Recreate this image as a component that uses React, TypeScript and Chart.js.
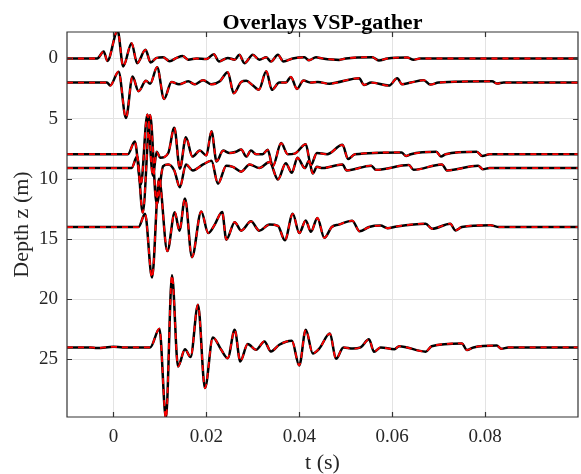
import React, { useEffect, useRef } from "react";
import { Chart, registerables } from "chart.js";

Chart.register(...registerables);

// ---- text ----
const titleText = "Overlays VSP-gather";
const xLabel = "t (s)";
const yLabel = "Depth z (m)";

// ---- axes ----
const xMin = -0.01;
const xMax = 0.1;
const yMin = -2.2;
const yMax = 29.78;
const xTicks = [0, 0.02, 0.04, 0.06, 0.08];
const xTickLabels = ["0", "0.02", "0.04", "0.06", "0.08"];
const yTicks = [0, 5, 10, 15, 20, 25];
const yTickLabels = ["0", "5", "10", "15", "20", "25"];

// ---- receiver depths (m) ----
const depths = [0, 2, 7.95, 9.1, 14, 24];

// ---- trace samples: times (s) and amplitudes (depth units, upward positive) ----
const tTrace0 = [-0.01, -0.0035, -0.0021, -0.0013, 0.0009, 0.0021, 0.0039, 0.0051, 0.0069, 0.008, 0.0093, 0.0107, 0.0121, 0.0136, 0.0149, 0.0161, 0.0179, 0.02, 0.0216, 0.0227, 0.0246, 0.0261, 0.0271, 0.0282, 0.03, 0.0314, 0.0329, 0.0339, 0.0354, 0.0366, 0.0386, 0.0411, 0.0421, 0.0436, 0.045, 0.0486, 0.05, 0.0557, 0.0571, 0.059, 0.0632, 0.0646, 0.066, 0.1];
const aTrace0 = [0, 0, 0.58, -0.2, 2.3, -0.66, 1.27, -0.39, 0.72, -0.33, 0.05, 0.1, -0.22, 0.05, 0.2, -0.1, 0, -0.05, 0.36, -0.25, 0.05, -0.1, 0.3, -0.39, 0.3, -0.1, 0.1, -0.25, 0.3, -0.25, 0, 0.1, -0.15, 0.1, 0, -0.12, 0, 0.11, -0.17, 0, 0.08, -0.1, 0, 0];

const tTrace1 = [-0.01, -0.0014, -0.0007, 0.0011, 0.0027, 0.0041, 0.0054, 0.007, 0.0079, 0.0094, 0.0109, 0.0125, 0.0141, 0.0161, 0.0175, 0.0193, 0.0211, 0.0229, 0.0246, 0.0259, 0.0275, 0.0286, 0.0299, 0.0313, 0.0329, 0.0341, 0.0357, 0.0371, 0.0382, 0.0395, 0.0409, 0.0425, 0.044, 0.0465, 0.048, 0.0529, 0.0539, 0.0555, 0.0593, 0.0611, 0.0621, 0.064, 0.0668, 0.0682, 0.07, 0.0815, 0.0826, 0.084, 0.1];
const aTrace1 = [0, 0, -0.25, 0.9, -2.94, 0.5, -0.72, 0.15, -0.1, 1.27, -1.36, 0.05, -0.15, 0.1, -0.15, 0.2, -0.15, 0.1, 0.86, -0.89, 0.05, 0.15, -0.2, -0.6, 0.94, -0.6, 0, 0, 0.47, -0.53, 0.17, 0, 0.05, -0.1, 0, 0.36, -0.2, 0, -0.25, 0.36, -0.14, 0, 0.2, -0.17, 0, 0.1, -0.08, 0, 0];

const tTrace2 = [-0.01, 0.0031, 0.0046, 0.0059, 0.0073, 0.0085, 0.0093, 0.0101, 0.0118, 0.0131, 0.0143, 0.0156, 0.017, 0.0186, 0.02, 0.0211, 0.0222, 0.0236, 0.025, 0.0264, 0.0275, 0.0286, 0.0296, 0.0307, 0.0321, 0.0332, 0.0343, 0.0361, 0.0375, 0.039, 0.0414, 0.0425, 0.0438, 0.046, 0.0493, 0.0505, 0.052, 0.062, 0.063, 0.064, 0.0695, 0.0705, 0.0715, 0.0782, 0.0794, 0.081, 0.1];
const aTrace2 = [0, 0, 1.05, -2.5, 3.3, -1.8, 0.2, -0.3, 0.1, 2.2, -1.2, 1.4, -0.2, 0.3, -0.1, 1.9, -0.6, 0.3, 0.1, 0.2, 0.4, -0.2, 0.3, 0, 0, 0.36, -1.0, 0.92, 0, 0.05, 0.83, -0.9, 0.1, 0, 0.78, -0.4, 0, 0.15, -0.15, 0, 0.2, -0.2, 0, 0.2, -0.15, 0, 0];

const tTrace3 = [-0.01, 0.0039, 0.0051, 0.0063, 0.0079, 0.0093, 0.0107, 0.0118, 0.0131, 0.0143, 0.0156, 0.0171, 0.0193, 0.0211, 0.0225, 0.0243, 0.0257, 0.0275, 0.0293, 0.0314, 0.0336, 0.0354, 0.0371, 0.0384, 0.0396, 0.0412, 0.0421, 0.0429, 0.0438, 0.045, 0.0493, 0.0502, 0.0555, 0.0565, 0.0636, 0.0646, 0.0707, 0.0718, 0.0785, 0.0795, 0.081, 0.1];
const aTrace3 = [0, 0, 0.97, -3.7, 4.4, -3.0, 0.15, 0.3, -0.2, -1.6, 0.3, -0.2, 0.3, 0.6, -1.3, 0.2, 0.1, -0.3, 0.3, 0, 0.5, -0.95, 0.4, -0.4, 0.86, 0, 0.6, -0.45, 0.1, 0, 0.3, -0.2, 0.2, -0.15, 0.25, -0.15, 0.3, -0.2, 0.2, -0.1, 0, 0];

const tTrace4 = [-0.01, 0.0054, 0.0068, 0.0083, 0.0098, 0.0116, 0.0132, 0.0142, 0.0154, 0.0169, 0.0189, 0.0204, 0.0218, 0.0234, 0.0243, 0.0261, 0.0275, 0.0296, 0.0314, 0.0336, 0.0354, 0.0369, 0.0386, 0.04, 0.0414, 0.0425, 0.0439, 0.0454, 0.047, 0.0485, 0.0514, 0.053, 0.055, 0.0575, 0.059, 0.061, 0.0672, 0.0686, 0.0725, 0.0736, 0.075, 0.0811, 0.083, 0.1];
const aTrace4 = [0, 0, 1.1, -4.2, 4.0, -2.0, 1.22, -0.3, 2.37, -2.5, 1.3, -0.5, 0.2, 1.25, -1.05, 0.4, -0.3, 0.47, -0.3, 0.2, 0.1, -1.1, 1.1, -0.5, 0.55, -0.4, 0.75, -0.9, 0, 0.2, 0.53, -0.36, 0, 0.12, -0.1, 0.05, 0.28, -0.15, 0.28, -0.28, 0, 0.15, 0, 0];

const tTrace5 = [-0.01, -0.005, -0.0035, 0, 0.002, 0.0079, 0.0099, 0.0113, 0.0126, 0.0139, 0.0154, 0.0166, 0.0182, 0.0197, 0.0214, 0.0232, 0.0246, 0.0261, 0.0273, 0.0289, 0.0307, 0.0325, 0.0339, 0.0357, 0.0384, 0.04, 0.0414, 0.0429, 0.0443, 0.0466, 0.0479, 0.0495, 0.0515, 0.0532, 0.055, 0.0561, 0.0575, 0.0605, 0.0615, 0.0672, 0.0685, 0.075, 0.0761, 0.0775, 0.0825, 0.0835, 0.085, 0.1];
const aTrace5 = [0, 0, -0.05, 0.05, 0, 0, 1.55, -5.9, 6.0, -1.58, -0.15, -0.8, 3.55, -3.38, 0.83, -0.2, -0.9, 1.47, -1.16, 0.28, -0.2, 0.5, -0.33, 0.22, 0.55, -1.5, 1.47, -0.5, -0.1, 1.15, -0.95, 0, -0.1, 0, 0.67, -0.36, 0, -0.15, 0.1, -0.35, 0.1, 0.33, -0.22, 0, 0.15, -0.12, 0, 0];

const traceTimes = [tTrace0, tTrace1, tTrace2, tTrace3, tTrace4, tTrace5];
const traceAmps = [aTrace0, aTrace1, aTrace2, aTrace3, aTrace4, aTrace5];

const FONT = '"Liberation Serif", "Times New Roman", serif';

function buildPoints(i: number) {
  const ts = traceTimes[i];
  const as = traceAmps[i];
  const n = Math.min(ts.length, as.length);
  const pts: { x: number; y: number }[] = [];
  for (let k = 0; k < n; k++) pts.push({ x: ts[k], y: depths[i] - as[k] });
  return pts;
}

const framePlugin = {
  id: "matlabFrame",
  afterDraw(chart: any) {
    const { ctx, chartArea } = chart;
    const { left, right, top, bottom } = chartArea;
    const xs = chart.scales.x;
    const ys = chart.scales.y;
    ctx.save();
    ctx.strokeStyle = "#333333";
    ctx.lineWidth = 1.2;
    ctx.beginPath();
    ctx.rect(left, top, right - left, bottom - top);
    ctx.stroke();
    const tl = 5;
    ctx.beginPath();
    xTicks.forEach((v) => {
      const px = Math.round(xs.getPixelForValue(v)) + 0.5;
      ctx.moveTo(px, bottom);
      ctx.lineTo(px, bottom - tl);
      ctx.moveTo(px, top);
      ctx.lineTo(px, top + tl);
    });
    yTicks.forEach((v) => {
      const py = Math.round(ys.getPixelForValue(v)) + 0.5;
      ctx.moveTo(left, py);
      ctx.lineTo(left + tl, py);
      ctx.moveTo(right, py);
      ctx.lineTo(right - tl, py);
    });
    ctx.stroke();

    ctx.fillStyle = "#000000";
    ctx.textAlign = "center";
    ctx.textBaseline = "alphabetic";
    ctx.font = `bold 22px ${FONT}`;
    ctx.fillText(titleText, (left + right) / 2, 29);

    ctx.fillStyle = "#262626";
    ctx.font = `22px ${FONT}`;
    ctx.fillText(xLabel, (left + right) / 2, 469);

    ctx.translate(22, (top + bottom) / 2);
    ctx.rotate(-Math.PI / 2);
    ctx.textBaseline = "middle";
    ctx.fillText(yLabel, 0, 0);
    ctx.restore();
  },
};

export default function App() {
  const ref = useRef<HTMLCanvasElement | null>(null);

  useEffect(() => {
    if (!ref.current) return;
    const datasets: any[] = [];
    depths.forEach((_, i) => {
      const pts = buildPoints(i);
      datasets.push({
        data: pts,
        borderColor: "#000000",
        borderWidth: 2.5,
        pointRadius: 0,
        cubicInterpolationMode: "monotone",
        fill: false,
        order: 1,
      });
      datasets.push({
        data: pts.map((p) => ({ x: p.x, y: p.y })),
        borderColor: "#ff0000",
        borderWidth: 1.8,
        borderDash: [6, 5],
        pointRadius: 0,
        cubicInterpolationMode: "monotone",
        fill: false,
        order: 0,
      });
    });

    const chart = new Chart(ref.current, {
      type: "line",
      data: { datasets },
      options: {
        animation: false,
        responsive: false,
        devicePixelRatio: 1,
        parsing: false as any,
        normalized: true,
        layout: { padding: { top: 32, right: 3, left: 0, bottom: 0 } },
        plugins: {
          legend: { display: false },
          tooltip: { enabled: false },
          title: { display: false },
        },
        scales: {
          x: {
            type: "linear",
            min: xMin,
            max: xMax,
            afterBuildTicks: (s: any) => {
              s.ticks = xTicks.map((value) => ({ value }));
            },
            afterFit: (s: any) => {
              s.height = 57;
            },
            ticks: {
              autoSkip: false,
              maxRotation: 0,
              padding: 9,
              color: "#262626",
              font: { family: FONT, size: 19 },
              callback: (v: any) => {
                const i = xTicks.indexOf(v);
                return i >= 0 ? xTickLabels[i] : "";
              },
            },
            grid: { color: "#e3e3e3", lineWidth: 1, drawTicks: false },
            border: { display: false },
          },
          y: {
            type: "linear",
            reverse: true,
            min: yMin,
            max: yMax,
            afterBuildTicks: (s: any) => {
              s.ticks = yTicks.map((value) => ({ value }));
            },
            afterFit: (s: any) => {
              s.width = 67;
            },
            ticks: {
              autoSkip: false,
              padding: 9,
              color: "#262626",
              font: { family: FONT, size: 19 },
              callback: (v: any) => {
                const i = yTicks.indexOf(v);
                return i >= 0 ? yTickLabels[i] : "";
              },
            },
            grid: { color: "#e3e3e3", lineWidth: 1, drawTicks: false },
            border: { display: false },
          },
        },
      },
      plugins: [framePlugin],
    });
    return () => chart.destroy();
  }, []);

  return (
    <div style={{ position: "absolute", left: 0, top: 0, width: 581, height: 474, background: "#ffffff" }}>
      <canvas ref={ref} width={581} height={474} style={{ display: "block" }} />
    </div>
  );
}
